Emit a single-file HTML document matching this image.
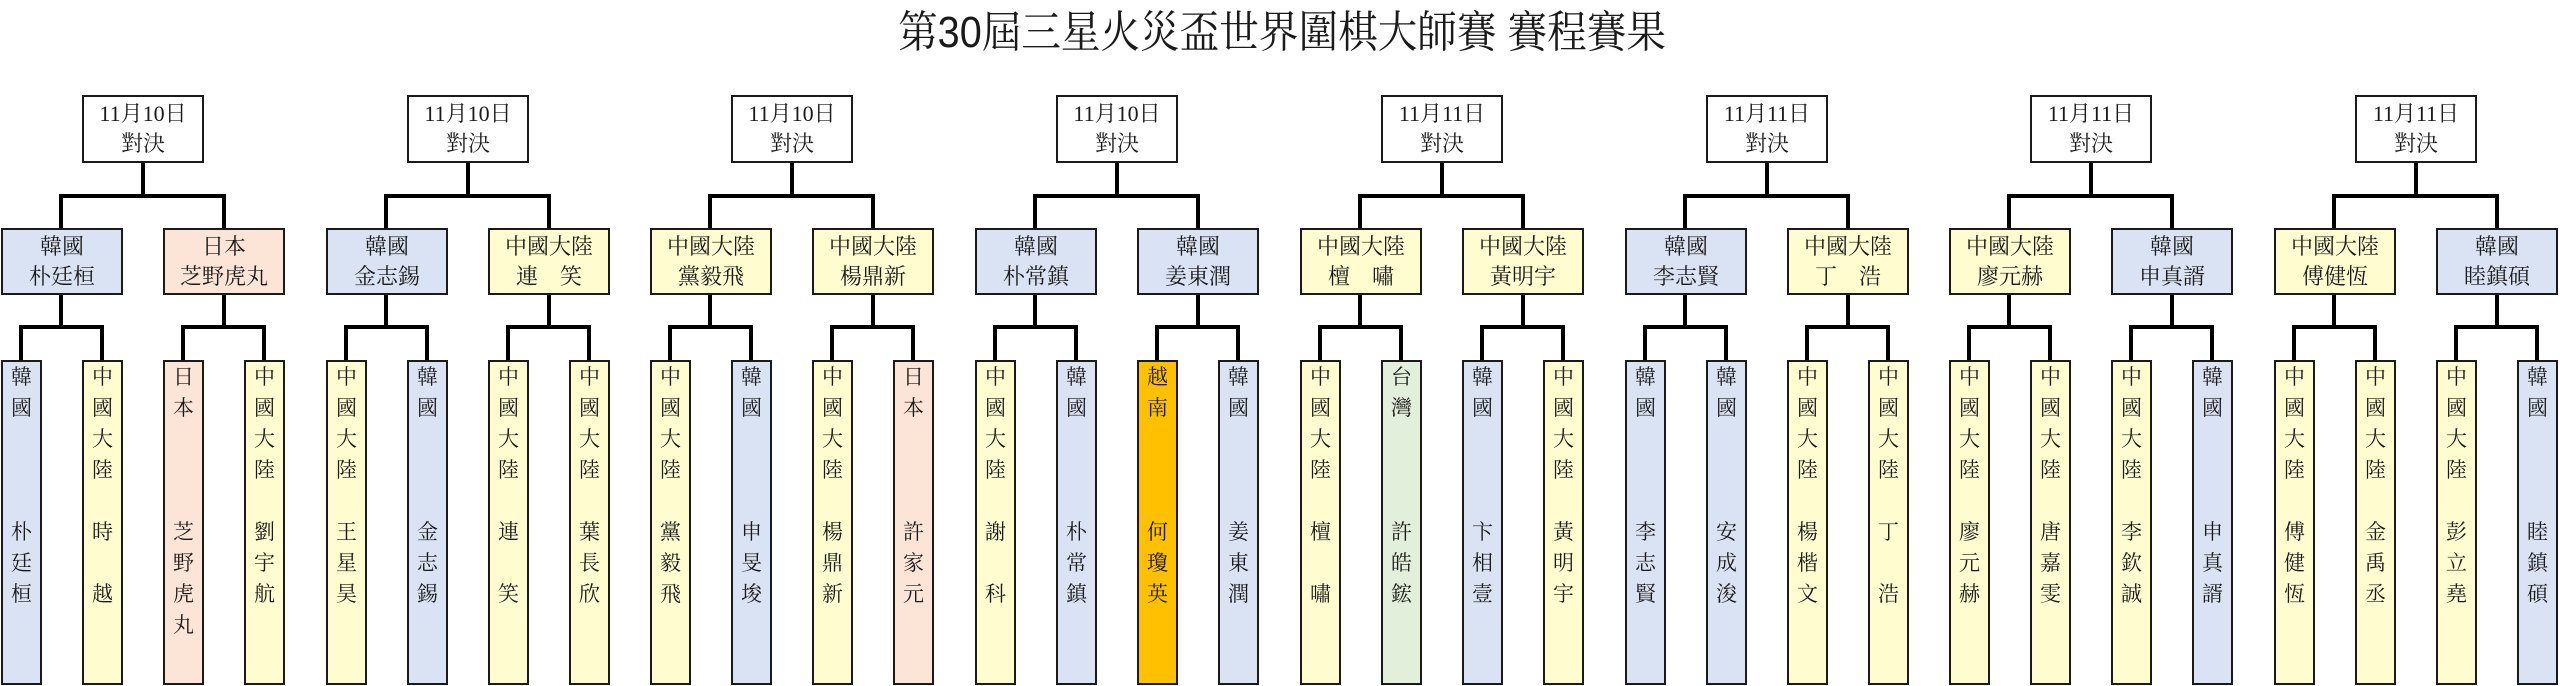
<!DOCTYPE html>
<html><head><meta charset="utf-8"><style>
*{margin:0;padding:0;box-sizing:border-box}
body{width:2560px;height:686px;position:relative;background:#fff;font-family:"Liberation Serif","Noto Serif CJK SC",serif;color:#1a1a1a;overflow:hidden}
.t{position:absolute;left:0;width:2564px;top:8px;text-align:center;font-size:44px;line-height:50px;font-family:"Liberation Sans","Noto Serif CJK SC",serif;transform:scaleX(0.9)}
.g{position:absolute;top:0;left:0;width:290px;height:686px}
.bx{position:absolute;border:2px solid #1a1a1a;text-align:center;font-size:22px;line-height:30px}
.top{left:82px;top:95px;width:122px;height:68px;background:#fff;padding-top:2px}
.m{top:228px;width:122px;height:67px;padding-top:2px}
.m1{left:1px}.m2{left:163px}
.b{top:360px;width:41px;height:325px;line-height:31px;font-size:21px}
.b1{left:1px}.b2{left:82px}.b3{left:163px}.b4{left:244px}
.b .c{position:absolute;left:0;right:0;top:0}
.b .n{position:absolute;left:0;right:0;top:155px}
.K{background:#dae3f3}.C{background:#fffdd0}.J{background:#fce4d6}.T{background:#e2efda}.V{background:#ffc000}
svg{position:absolute;left:0;top:0}
</style></head><body>
<div class="t">第30屆三星火災盃世界圍棋大師賽 賽程賽果</div>
<svg width="2560" height="686">
<defs><path id="cn" d="M143 163V196M59 196H226M61 196V228M224 196V228M61 295V327M19 327H104M21 327V360M102 327V360M224 295V327M181 327H266M183 327V360M264 327V360" stroke="#000" stroke-width="4" fill="none"/></defs>
<use href="#cn" x="0"/><use href="#cn" x="325"/><use href="#cn" x="649"/><use href="#cn" x="974"/><use href="#cn" x="1299"/><use href="#cn" x="1624"/><use href="#cn" x="1948"/><use href="#cn" x="2273"/>
</svg>

<div class="g" style="left:0px">
<div class="bx top">11月10日<br>對決</div>
<div class="bx m m1 K">韓國<br>朴廷桓</div><div class="bx m m2 J">日本<br>芝野虎丸</div>
<div class="bx b b1 K"><div class="c">韓<br>國</div><div class="n">朴<br>廷<br>桓</div></div>
<div class="bx b b2 C"><div class="c">中<br>國<br>大<br>陸</div><div class="n">時<br>　<br>越</div></div>
<div class="bx b b3 J"><div class="c">日<br>本</div><div class="n">芝<br>野<br>虎<br>丸</div></div>
<div class="bx b b4 C"><div class="c">中<br>國<br>大<br>陸</div><div class="n">劉<br>宇<br>航</div></div>
</div>

<div class="g" style="left:325px">
<div class="bx top">11月10日<br>對決</div>
<div class="bx m m1 K">韓國<br>金志錫</div><div class="bx m m2 C">中國大陸<br>連　笑</div>
<div class="bx b b1 C"><div class="c">中<br>國<br>大<br>陸</div><div class="n">王<br>星<br>昊</div></div>
<div class="bx b b2 K"><div class="c">韓<br>國</div><div class="n">金<br>志<br>錫</div></div>
<div class="bx b b3 C"><div class="c">中<br>國<br>大<br>陸</div><div class="n">連<br>　<br>笑</div></div>
<div class="bx b b4 C"><div class="c">中<br>國<br>大<br>陸</div><div class="n">葉<br>長<br>欣</div></div>
</div>

<div class="g" style="left:649px">
<div class="bx top">11月10日<br>對決</div>
<div class="bx m m1 C">中國大陸<br>黨毅飛</div><div class="bx m m2 C">中國大陸<br>楊鼎新</div>
<div class="bx b b1 C"><div class="c">中<br>國<br>大<br>陸</div><div class="n">黨<br>毅<br>飛</div></div>
<div class="bx b b2 K"><div class="c">韓<br>國</div><div class="n">申<br>旻<br>埈</div></div>
<div class="bx b b3 C"><div class="c">中<br>國<br>大<br>陸</div><div class="n">楊<br>鼎<br>新</div></div>
<div class="bx b b4 J"><div class="c">日<br>本</div><div class="n">許<br>家<br>元</div></div>
</div>

<div class="g" style="left:974px">
<div class="bx top">11月10日<br>對決</div>
<div class="bx m m1 K">韓國<br>朴常鎮</div><div class="bx m m2 K">韓國<br>姜東潤</div>
<div class="bx b b1 C"><div class="c">中<br>國<br>大<br>陸</div><div class="n">謝<br>　<br>科</div></div>
<div class="bx b b2 K"><div class="c">韓<br>國</div><div class="n">朴<br>常<br>鎮</div></div>
<div class="bx b b3 V"><div class="c">越<br>南</div><div class="n">何<br>瓊<br>英</div></div>
<div class="bx b b4 K"><div class="c">韓<br>國</div><div class="n">姜<br>東<br>潤</div></div>
</div>

<div class="g" style="left:1299px">
<div class="bx top">11月11日<br>對決</div>
<div class="bx m m1 C">中國大陸<br>檀　嘯</div><div class="bx m m2 C">中國大陸<br>黃明宇</div>
<div class="bx b b1 C"><div class="c">中<br>國<br>大<br>陸</div><div class="n">檀<br>　<br>嘯</div></div>
<div class="bx b b2 T"><div class="c">台<br>灣</div><div class="n">許<br>皓<br>鋐</div></div>
<div class="bx b b3 K"><div class="c">韓<br>國</div><div class="n">卞<br>相<br>壹</div></div>
<div class="bx b b4 C"><div class="c">中<br>國<br>大<br>陸</div><div class="n">黃<br>明<br>宇</div></div>
</div>

<div class="g" style="left:1624px">
<div class="bx top">11月11日<br>對決</div>
<div class="bx m m1 K">韓國<br>李志賢</div><div class="bx m m2 C">中國大陸<br>丁　浩</div>
<div class="bx b b1 K"><div class="c">韓<br>國</div><div class="n">李<br>志<br>賢</div></div>
<div class="bx b b2 K"><div class="c">韓<br>國</div><div class="n">安<br>成<br>浚</div></div>
<div class="bx b b3 C"><div class="c">中<br>國<br>大<br>陸</div><div class="n">楊<br>楷<br>文</div></div>
<div class="bx b b4 C"><div class="c">中<br>國<br>大<br>陸</div><div class="n">丁<br>　<br>浩</div></div>
</div>

<div class="g" style="left:1948px">
<div class="bx top">11月11日<br>對決</div>
<div class="bx m m1 C">中國大陸<br>廖元赫</div><div class="bx m m2 K">韓國<br>申真諝</div>
<div class="bx b b1 C"><div class="c">中<br>國<br>大<br>陸</div><div class="n">廖<br>元<br>赫</div></div>
<div class="bx b b2 C"><div class="c">中<br>國<br>大<br>陸</div><div class="n">唐<br>嘉<br>雯</div></div>
<div class="bx b b3 C"><div class="c">中<br>國<br>大<br>陸</div><div class="n">李<br>欽<br>誠</div></div>
<div class="bx b b4 K"><div class="c">韓<br>國</div><div class="n">申<br>真<br>諝</div></div>
</div>

<div class="g" style="left:2273px">
<div class="bx top">11月11日<br>對決</div>
<div class="bx m m1 C">中國大陸<br>傅健恆</div><div class="bx m m2 K">韓國<br>睦鎮碩</div>
<div class="bx b b1 C"><div class="c">中<br>國<br>大<br>陸</div><div class="n">傅<br>健<br>恆</div></div>
<div class="bx b b2 C"><div class="c">中<br>國<br>大<br>陸</div><div class="n">金<br>禹<br>丞</div></div>
<div class="bx b b3 C"><div class="c">中<br>國<br>大<br>陸</div><div class="n">彭<br>立<br>堯</div></div>
<div class="bx b b4 K"><div class="c">韓<br>國</div><div class="n">睦<br>鎮<br>碩</div></div>
</div>
</body></html>
